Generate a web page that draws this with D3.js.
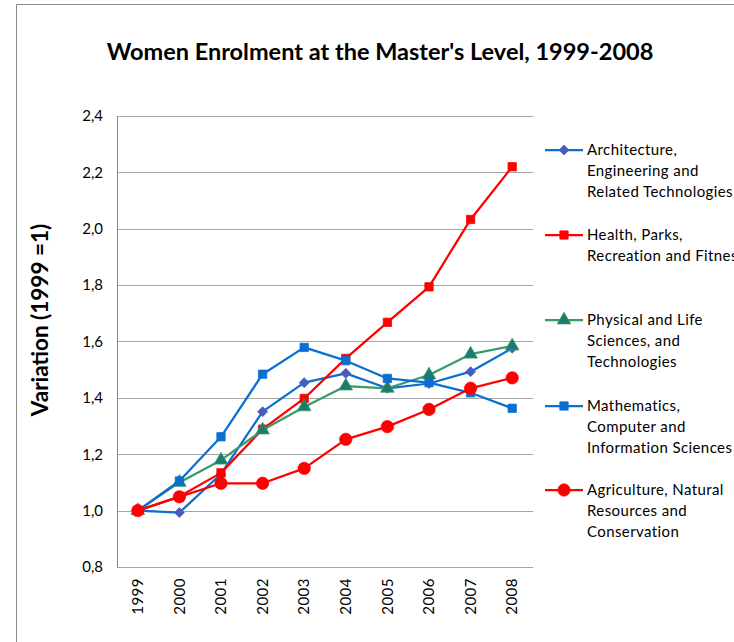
<!DOCTYPE html>
<html>
<head>
  <meta charset="utf-8">
  <script src="https://cdn.jsdelivr.net/npm/d3@7"></script>
  <style>
    body { margin: 0; background: #fff; }
    text { font-family: Lato, "Open Sans", sans-serif; fill: #000; }
  </style>
</head>
<body>
  <div id="chart"></div>

  <script>
    const years = ['1999', '2000', '2001', '2002', '2003', '2004', '2005', '2006', '2007', '2008'];

    const architecture = [1.00, 0.993, 1.13, 1.351, 1.454, 1.487, 1.434, 1.451, 1.493, 1.576];
    const health = [1.00, 1.05, 1.134, 1.289, 1.398, 1.540, 1.668, 1.794, 2.033, 2.220];
    const physical = [1.00, 1.10, 1.179, 1.286, 1.368, 1.442, 1.434, 1.481, 1.555, 1.584];
    const mathematics = [1.00, 1.105, 1.262, 1.484, 1.579, 1.532, 1.469, 1.454, 1.418, 1.363];
    const agriculture = [1.00, 1.049, 1.097, 1.097, 1.150, 1.253, 1.298, 1.359, 1.434, 1.471];

    const seriesNames = [
      ['Architecture,', 'Engineering and', 'Related Technologies'],
      ['Health, Parks,', 'Recreation and Fitness'],
      ['Physical and Life', 'Sciences, and', 'Technologies'],
      ['Mathematics,', 'Computer and', 'Information Sciences'],
      ['Agriculture, Natural', 'Resources and', 'Conservation']
    ];

    const yTicks = [0.8, 1.0, 1.2, 1.4, 1.6, 1.8, 2.0, 2.2, 2.4];

    const width = 734;
    const height = 642;
    const plot = { left: 117, right: 533, top: 116, bottom: 567 };

    // diamond = square turned by 45 degrees
    const series = [
      { values: architecture, line: '#0A6FD0', fill: '#3F5FC4', stroke: '#6A5AA8', symbol: d3.symbolSquare, size: 50, rot: 45 },
      { values: health, line: '#FF0000', fill: '#FF0000', stroke: '#FF0000', symbol: d3.symbolSquare, size: 70, rot: 0 },
      { values: physical, line: '#3A9A68', fill: '#1C7C6C', stroke: '#3A9A68', symbol: d3.symbolTriangle, size: 80, rot: 0 },
      { values: mathematics, line: '#0A6FD0', fill: '#0A6FD0', stroke: '#0A6FD0', symbol: d3.symbolSquare, size: 70, rot: 0 },
      { values: agriculture, line: '#FF0000', fill: '#FF0000', stroke: '#FF0000', symbol: d3.symbolCircle, size: 120, rot: 0 }
    ];
    series.forEach((s, i) => { s.name = seriesNames[i]; });

    const svg = d3.select('#chart').append('svg')
      .attr('width', width)
      .attr('height', height);

    // chart area border (only left and top edges are visible)
    svg.append('path')
      .attr('d', `M16.5,${height} V4.5 H${width}`)
      .attr('fill', 'none')
      .attr('stroke', '#8c8c8c')
      .attr('stroke-width', 1);

    const x = d3.scalePoint()
      .domain(years)
      .range([plot.left, plot.right])
      .padding(0.5);

    const y = d3.scaleLinear()
      .domain([0.8, 2.4])
      .range([plot.bottom, plot.top]);

    const comma = d3.formatLocale({ decimal: ',', thousands: '.', grouping: [3], currency: ['', ''] }).format('.1f');

    // gridlines
    svg.append('g')
      .selectAll('line')
      .data(yTicks)
      .join('line')
      .attr('x1', plot.left)
      .attr('x2', plot.right)
      .attr('y1', d => Math.round(y(d)) + 0.5)
      .attr('y2', d => Math.round(y(d)) + 0.5)
      .attr('stroke', '#a6a6a6')
      .attr('stroke-width', 1);

    // y axis line
    svg.append('line')
      .attr('x1', plot.left + 0.5)
      .attr('x2', plot.left + 0.5)
      .attr('y1', plot.top)
      .attr('y2', plot.bottom + 0.5)
      .attr('stroke', '#868686');

    // y tick labels
    svg.append('g')
      .selectAll('text')
      .data(yTicks)
      .join('text')
      .attr('x', 103)
      .attr('y', d => y(d))
      .attr('dy', '0.35em')
      .attr('text-anchor', 'end')
      .style('font-size', '15px')
      .text(d => comma(d));

    // x tick labels
    svg.append('g')
      .selectAll('text')
      .data(years)
      .join('text')
      .attr('transform', d => `translate(${x(d)},578) rotate(-90)`)
      .attr('dy', '0.35em')
      .attr('text-anchor', 'end')
      .style('font-size', '15px')
      .style('letter-spacing', '0.5px')
      .text(d => d);

    // title
    svg.append('text')
      .attr('x', 380)
      .attr('y', 60)
      .attr('text-anchor', 'middle')
      .style('font-size', '23.5px')
      .style('font-weight', 'bold')
      .text("Women Enrolment at the Master's Level, 1999-2008");

    // y axis title
    svg.append('text')
      .attr('transform', 'translate(48,320) rotate(-90)')
      .attr('text-anchor', 'middle')
      .style('font-size', '22.5px')
      .style('font-weight', 'bold')
      .text('Variation (1999 =1)');

    const line = d3.line()
      .x((d, i) => x(years[i]))
      .y(d => y(d));

    const symbol = d3.symbol();

    series.forEach(s => {
      const g = svg.append('g');
      g.append('path')
        .attr('d', line(s.values))
        .attr('fill', 'none')
        .attr('stroke', s.line)
        .attr('stroke-width', 2.25)
        .attr('stroke-linejoin', 'round');
      g.selectAll('path.marker')
        .data(s.values)
        .join('path')
        .attr('class', 'marker')
        .attr('transform', (d, i) => `translate(${x(years[i])},${y(d)}) rotate(${s.rot})`)
        .attr('d', symbol.type(s.symbol).size(s.size)())
        .attr('fill', s.fill)
        .attr('stroke', s.stroke)
        .attr('stroke-width', 0.75);
    });

    // legend
    const legendY = [150, 235, 320, 406, 490];
    const legend = svg.append('g');
    series.forEach((s, i) => {
      const g = legend.append('g').attr('transform', `translate(0,${legendY[i]})`);
      g.append('line')
        .attr('x1', 545)
        .attr('x2', 583)
        .attr('stroke', s.line)
        .attr('stroke-width', 2.25);
      g.append('path')
        .attr('transform', `translate(564,0) rotate(${s.rot})`)
        .attr('d', symbol.type(s.symbol).size(s.size)())
        .attr('fill', s.fill)
        .attr('stroke', s.stroke)
        .attr('stroke-width', 0.75);
      g.append('text')
        .style('font-size', '15px')
        .style('letter-spacing', '0.4px')
        .selectAll('tspan')
        .data(s.name)
        .join('tspan')
        .attr('x', 587)
        .attr('y', (d, j) => j * 21)
        .attr('dy', '0.35em')
        .text(d => d);
    });
  </script>
</body>
</html>
